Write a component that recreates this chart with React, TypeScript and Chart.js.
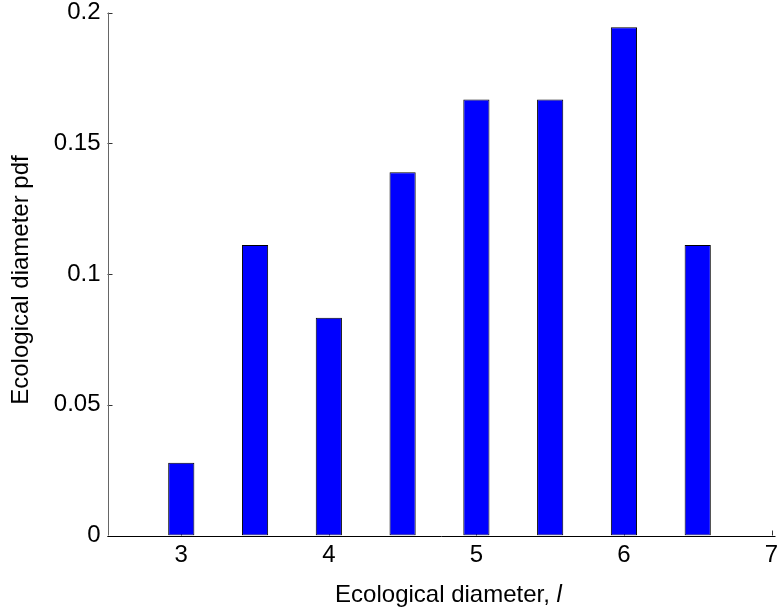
import React, { useEffect, useRef } from "react";
import { Chart, registerables } from "chart.js";

Chart.register(...registerables);

const diameters = [3, 3.5, 4, 4.5, 5, 5.5, 6, 6.5];
const pdfValues = [0.0278, 0.1111, 0.0833, 0.1389, 0.1667, 0.1667, 0.1944, 0.1111];
const xTickValues = [3, 4, 5, 6, 7];
const yTickValues = [0, 0.05, 0.1, 0.15, 0.2];
const yTickLabels = ["0", "0.05", "0.1", "0.15", "0.2"];
const xTitleMain = "Ecological diameter, ";
const xTitleItalic = "l";
const yTitle = "Ecological diameter pdf";

const FONT = "'Liberation Sans', Arial, Helvetica, sans-serif";

const zeroPadding = (scale: any) => {
  scale.paddingTop = 0;
  scale.paddingBottom = 0;
  scale.paddingLeft = 0;
  scale.paddingRight = 0;
};

const axesPlugin = {
  id: "matlabAxes",
  beforeDatasetsDraw(chart: any) {
    const ctx = chart.ctx;
    const { left, bottom } = chart.chartArea;
    const xs = chart.scales.x;
    const ys = chart.scales.y;
    ctx.save();
    ctx.strokeStyle = "#333";
    ctx.lineWidth = 1;
    ctx.beginPath();
    xTickValues.forEach((v) => {
      const px = Math.round(xs.getPixelForValue(v)) + 0.5;
      ctx.moveTo(px, bottom);
      ctx.lineTo(px, bottom - 5);
    });
    yTickValues.forEach((v) => {
      const py = Math.round(ys.getPixelForValue(v)) + 0.5;
      ctx.moveTo(left, py);
      ctx.lineTo(left + 5, py);
    });
    ctx.stroke();
    ctx.restore();
  },
  afterDatasetsDraw(chart: any) {
    const ctx = chart.ctx;
    const { left, right, top, bottom } = chart.chartArea;
    ctx.save();
    ctx.lineWidth = 1;
    ctx.strokeStyle = "#666";
    ctx.beginPath();
    ctx.moveTo(Math.round(left) + 0.5, top);
    ctx.lineTo(Math.round(left) + 0.5, bottom);
    ctx.stroke();
    ctx.strokeStyle = "#000";
    ctx.beginPath();
    ctx.moveTo(left, Math.round(bottom) + 0.5);
    ctx.lineTo(right + 4, Math.round(bottom) + 0.5);
    ctx.stroke();
    ctx.restore();
  },
  afterDraw(chart: any) {
    const ctx = chart.ctx;
    const { left, right, top, bottom } = chart.chartArea;
    ctx.save();
    ctx.fillStyle = "#000";
    ctx.font = `24px ${FONT}`;
    const w1 = ctx.measureText(xTitleMain).width;
    ctx.font = `italic 24px ${FONT}`;
    const w2 = ctx.measureText(xTitleItalic).width;
    const cx = (left + right) / 2 + 9;
    const startX = cx - (w1 + w2) / 2;
    ctx.textBaseline = "alphabetic";
    ctx.textAlign = "left";
    ctx.font = `24px ${FONT}`;
    ctx.fillText(xTitleMain, startX, 602);
    ctx.font = `italic 24px ${FONT}`;
    ctx.fillText(xTitleItalic, startX + w1, 602);
    ctx.translate(27.5, (top + bottom) / 2 + 6);
    ctx.rotate(-Math.PI / 2);
    ctx.font = `24px ${FONT}`;
    ctx.textAlign = "center";
    ctx.fillText(yTitle, 0, 0);
    ctx.restore();
  },
};

export default function App() {
  const canvasRef = useRef<HTMLCanvasElement | null>(null);

  useEffect(() => {
    document.body.style.margin = "0";
    const canvas = canvasRef.current;
    if (!canvas) return;
    const chart = new Chart(canvas, {
      type: "bar",
      data: {
        datasets: [
          {
            data: diameters.map((d, i) => ({ x: d, y: pdfValues[i] })),
            backgroundColor: "#0000ff",
            borderColor: "#000000",
            borderWidth: 1,
            borderSkipped: false,
            barPercentage: 0.355,
            categoryPercentage: 1,
          },
        ],
      },
      options: {
        animation: false,
        responsive: false,
        devicePixelRatio: 1,
        layout: {
          autoPadding: false,
          padding: { left: 0, right: 5.5, top: 12.5, bottom: 0 },
        },
        plugins: {
          legend: { display: false },
          tooltip: { enabled: false },
          title: { display: false },
        },
        scales: {
          x: {
            type: "linear",
            offset: false,
            min: 2.5,
            max: 7,
            grid: { display: false, drawTicks: false, tickLength: 0 },
            border: { display: false },
            afterBuildTicks: (scale: any) => {
              scale.ticks = xTickValues.map((v) => ({ value: v }));
            },
            afterFit: (scale: any) => {
              scale.height = 612 - 535.5;
              zeroPadding(scale);
            },
            ticks: {
              font: { family: FONT, size: 24 },
              color: "#000",
              padding: 5,
              maxRotation: 0,
              autoSkip: false,
              callback: (v: any) => String(v),
            },
          },
          y: {
            type: "linear",
            min: 0,
            max: 0.2,
            grid: { display: false, drawTicks: false, tickLength: 0 },
            border: { display: false },
            afterBuildTicks: (scale: any) => {
              scale.ticks = yTickValues.map((v) => ({ value: v }));
            },
            afterFit: (scale: any) => {
              scale.width = 107.5;
              zeroPadding(scale);
            },
            ticks: {
              font: { family: FONT, size: 24 },
              color: "#000",
              padding: 7,
              autoSkip: false,
              callback: (v: any) => {
                const i = yTickValues.indexOf(v);
                return i >= 0 ? yTickLabels[i] : "";
              },
            },
          },
        },
      },
      plugins: [axesPlugin],
    } as any);
    return () => chart.destroy();
  }, []);

  return (
    <div style={{ position: "absolute", left: 0, top: 0, width: 777, height: 612, background: "#fff" }}>
      <canvas ref={canvasRef} width={777} height={612} style={{ display: "block" }} />
    </div>
  );
}
